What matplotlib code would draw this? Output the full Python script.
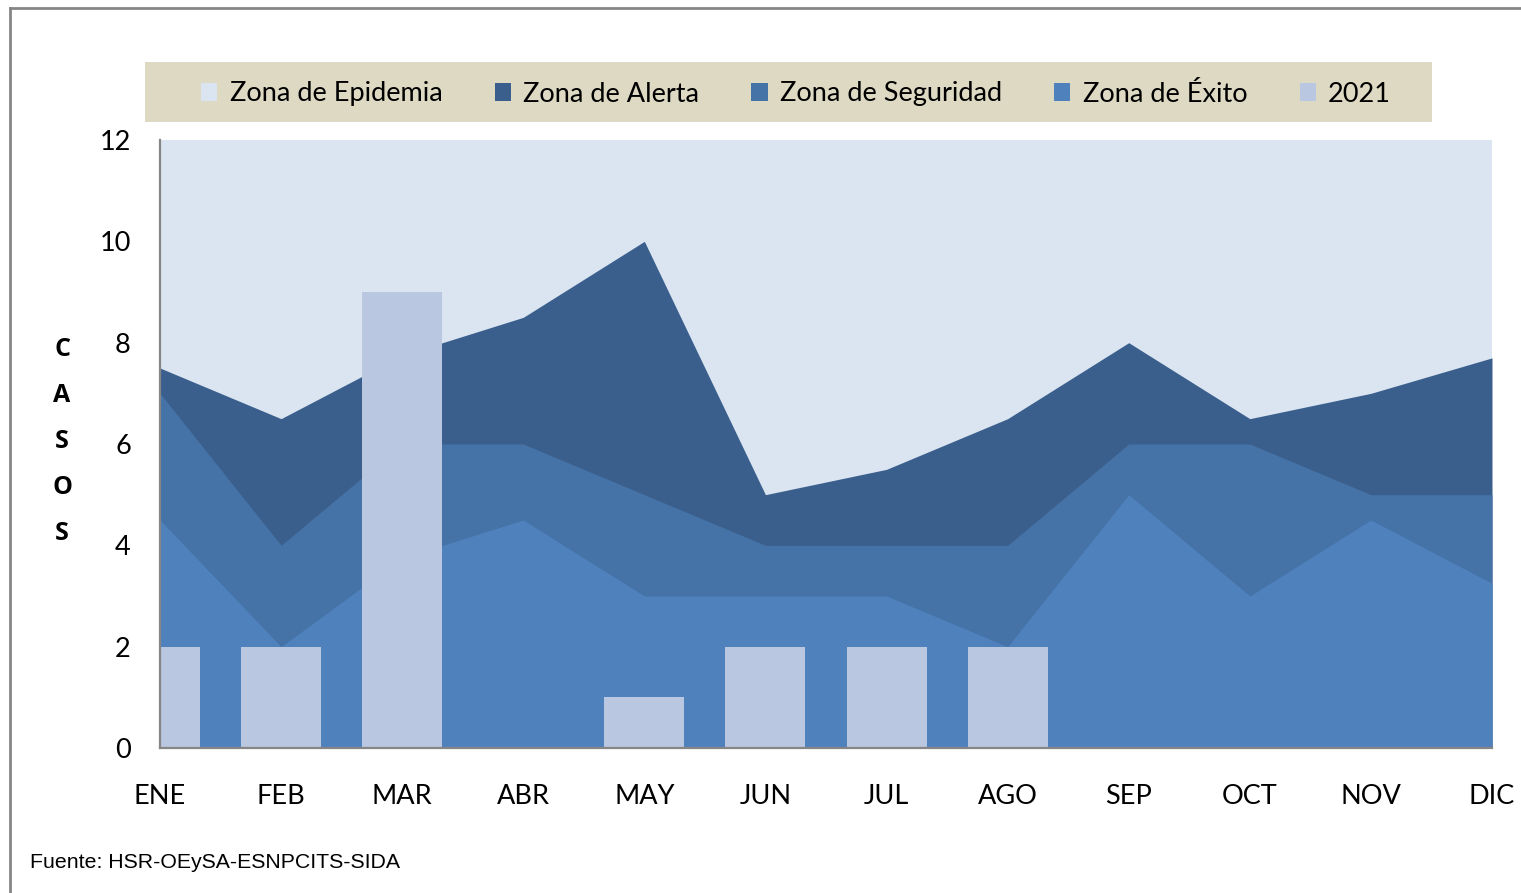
"""Canal endemico 2021: zonas de epidemia / alerta / seguridad / exito con casos 2021."""

import numpy as np
import matplotlib
matplotlib.use('Agg')
import matplotlib.pyplot as plt
from matplotlib.patches import Patch, Rectangle
from matplotlib.lines import Line2D

# --- data (upper limit of each zone, and 2021 cases) ---
months = ['ENE', 'FEB', 'MAR', 'ABR', 'MAY', 'JUN', 'JUL', 'AGO', 'SEP', 'OCT', 'NOV', 'DIC']
zona_exito = [4.5, 2, 3.75, 4.5, 3, 3, 3, 2, 5, 3, 4.5, 3.25]
zona_seguridad = [7, 4, 6, 6, 5, 4, 4, 4, 6, 6, 5, 5]
zona_alerta = [7.5, 6.5, 7.75, 8.5, 10, 5, 5.5, 6.5, 8, 6.5, 7, 7.7]
zona_epidemia = [12] * 12
casos_2021 = [2, 2, 9, 0, 1, 2, 2, 2, 0, 0, 0, 0]
y_ticks = [0, 2, 4, 6, 8, 10, 12]

legend_labels = ['Zona de Epidemia', 'Zona de Alerta', 'Zona de Seguridad', 'Zona de Éxito', '2021']
colors = {
    'epidemia': '#DBE5F1',
    'alerta': '#3A5F8D',
    'seguridad': '#4573A7',
    'exito': '#4F81BD',
    '2021': '#BAC7E0',
}

W, H = 1521, 893
FONT = 'Lato'

fig = plt.figure(figsize=(W / 100, H / 100), dpi=100)
fig.patch.set_facecolor('white')
ax = fig.add_axes([160 / W, 1 - 748 / H, (1492 - 160) / W, (748 - 140) / H])

x = np.arange(len(months))
ax.fill_between(x, 0, zona_epidemia, color=colors['epidemia'], lw=0)
ax.fill_between(x, 0, zona_alerta, color=colors['alerta'], lw=0)
ax.fill_between(x, 0, zona_seguridad, color=colors['seguridad'], lw=0)
ax.fill_between(x, 0, zona_exito, color=colors['exito'], lw=0)
ax.bar(x, casos_2021, width=0.66, color=colors['2021'], lw=0, zorder=3)

ax.set_xlim(0, len(months) - 1)
ax.set_ylim(0, 12)
ax.set_xticks(x)
ax.set_xticklabels(months, fontsize=19.5, family=FONT)
ax.set_yticks(y_ticks)
ax.set_yticklabels([str(t) for t in y_ticks], fontsize=19.5, family=FONT)
ax.tick_params(axis='x', length=0, pad=26)
ax.tick_params(axis='y', length=0, pad=21)
for side in ['top', 'right']:
    ax.spines[side].set_visible(False)
for side in ['left', 'bottom']:
    ax.spines[side].set_color('#868686')
    ax.spines[side].set_linewidth(1.6)
    ax.spines[side].set_zorder(5)

# vertical "CASOS" label
for i, ch in enumerate('CASOS'):
    fig.text(62 / W, 1 - (349 + 46 * i) / H, ch, fontsize=18, fontweight='bold',
             family='Open Sans', ha='center', va='center')

# legend in beige band
fig.patches.append(Rectangle((145 / W, 1 - 122 / H), (1432 - 145) / W, 60 / H,
                             transform=fig.transFigure, facecolor='#DDD9C3',
                             edgecolor='none', zorder=0))
handles = [Patch(facecolor=colors[k], edgecolor='none')
           for k in ['epidemia', 'alerta', 'seguridad', 'exito', '2021']]
fig.legend(handles, legend_labels, loc='center', ncol=5,
           bbox_to_anchor=(796 / W, 1 - 94 / H),
           frameon=False, prop={'family': FONT, 'size': 19.5},
           handlelength=0.6, handleheight=0.6, handletextpad=0.45,
           columnspacing=1.93)

fig.text(30 / W, 1 - 862 / H, 'Fuente: HSR-OEySA-ESNPCITS-SIDA',
         fontsize=15.3, family='Liberation Sans', ha='left', va='center')

# outer chart border (left and top edges visible)
fig.add_artist(Line2D([10 / W, 10 / W], [0, 1 - 8 / H], color='#868686', lw=2))
fig.add_artist(Line2D([10 / W, 1], [1 - 8 / H, 1 - 8 / H], color='#868686', lw=2))

fig.savefig('out.png', dpi=100)
plt.close(fig)
